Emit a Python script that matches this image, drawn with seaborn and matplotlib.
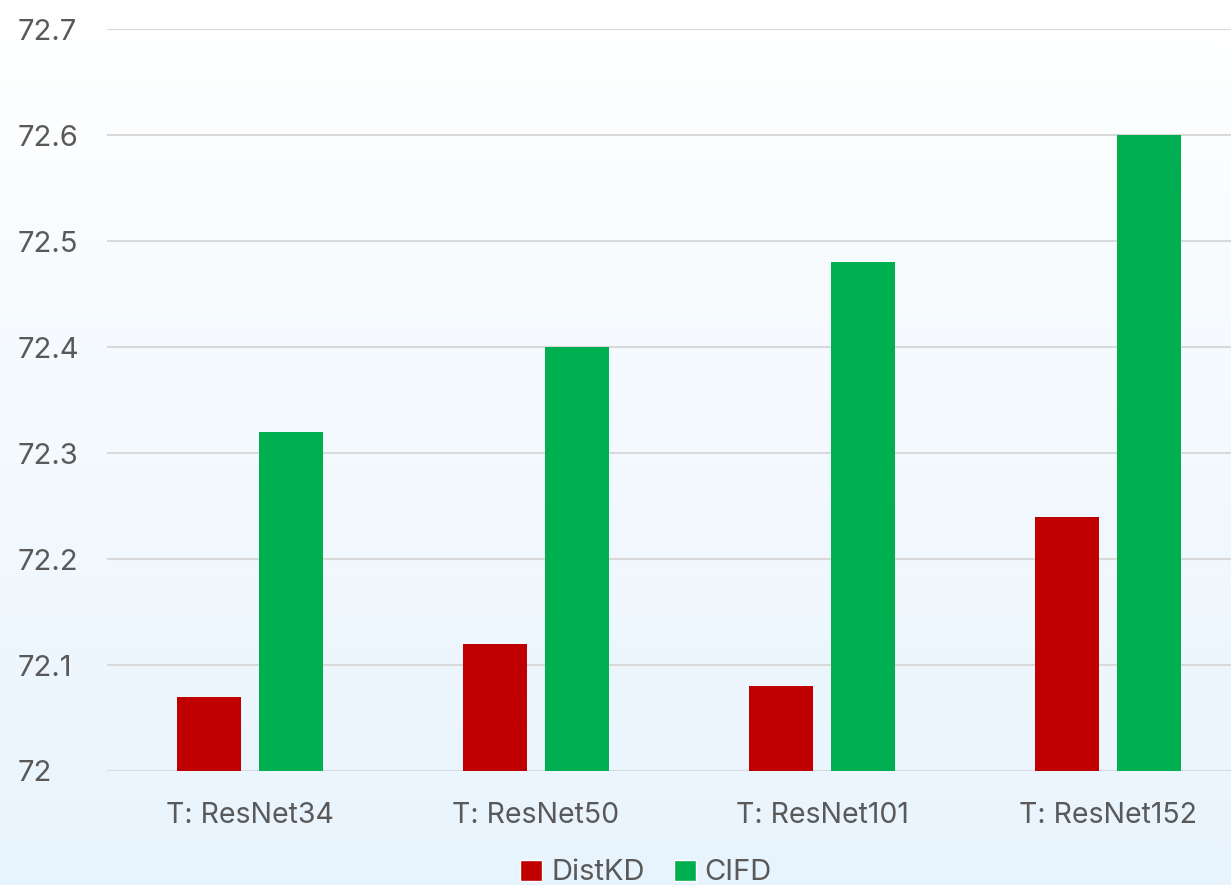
import numpy as np
import pandas as pd
import matplotlib
matplotlib.use('Agg')
import matplotlib.pyplot as plt
import seaborn as sns
from matplotlib.ticker import FuncFormatter
from matplotlib.patches import Patch

teachers = ['T: ResNet34', 'T: ResNet50', 'T: ResNet101', 'T: ResNet152']
distkd = [72.07, 72.12, 72.08, 72.24]
cifd = [72.32, 72.40, 72.48, 72.60]
methods = ['DistKD', 'CIFD']
colors = ['#C00000', '#00B050']

df = pd.DataFrame({
    'teacher': teachers * 2,
    'acc': distkd + cifd,
    'method': ['DistKD'] * 4 + ['CIFD'] * 4,
})

sns.set_style('white')
plt.rcParams['font.family'] = ['Inter', 'DejaVu Sans']
text_col = '#595959'

fig = plt.figure(figsize=(12.31, 8.85), dpi=100)

# background gradient (white at top -> light blue at bottom)
bg = fig.add_axes([0, 0, 1, 1], zorder=-10)
grad = np.linspace(0, 1, 256).reshape(-1, 1)
top = np.array([1.0, 1.0, 1.0])
bot = np.array([232, 244, 253]) / 255
img = top + (bot - top) * grad[:, :, None]
bg.imshow(img, aspect='auto', extent=[0, 1, 0, 1])
bg.axis('off')

ax = fig.add_axes([107 / 1231, 114 / 885, 1124 / 1231, 742 / 885])
ax.patch.set_alpha(0)

sns.barplot(data=df, x='teacher', y='acc', hue='method', palette=colors,
            saturation=1, width=0.573, gap=0.22, ax=ax, legend=False,
            linewidth=0, zorder=3)

ax.set_ylim(72.0, 72.7)
ax.set_xlim(-0.5, 3.43)
ax.set_yticks(np.arange(72.0, 72.71, 0.1))
ax.yaxis.set_major_formatter(FuncFormatter(lambda v, p: f'{round(v, 1):g}'))
ax.grid(axis='y', color='#D9D9D9', linewidth=1.5, zorder=0)
ax.set_axisbelow(True)
for s in ax.spines.values():
    s.set_visible(False)

ax.set_xlabel('')
ax.set_ylabel('')
ax.tick_params(axis='both', length=0, labelcolor=text_col)
ax.tick_params(axis='x', pad=22, labelsize=20.5)
ax.tick_params(axis='y', pad=64, labelsize=21)
for lab in ax.get_yticklabels():
    lab.set_horizontalalignment('left')

handles = [Patch(facecolor=c, label=m) for m, c in zip(methods, colors)]
fig.legend(handles=handles, loc='center', bbox_to_anchor=(646 / 1231, 12 / 885),
           ncol=2, frameon=False, fontsize=21, labelcolor=text_col,
           handlelength=0.75, handleheight=0.75, handletextpad=0.3,
           columnspacing=1.0, borderpad=0)

fig.savefig('out.png', dpi=100)
